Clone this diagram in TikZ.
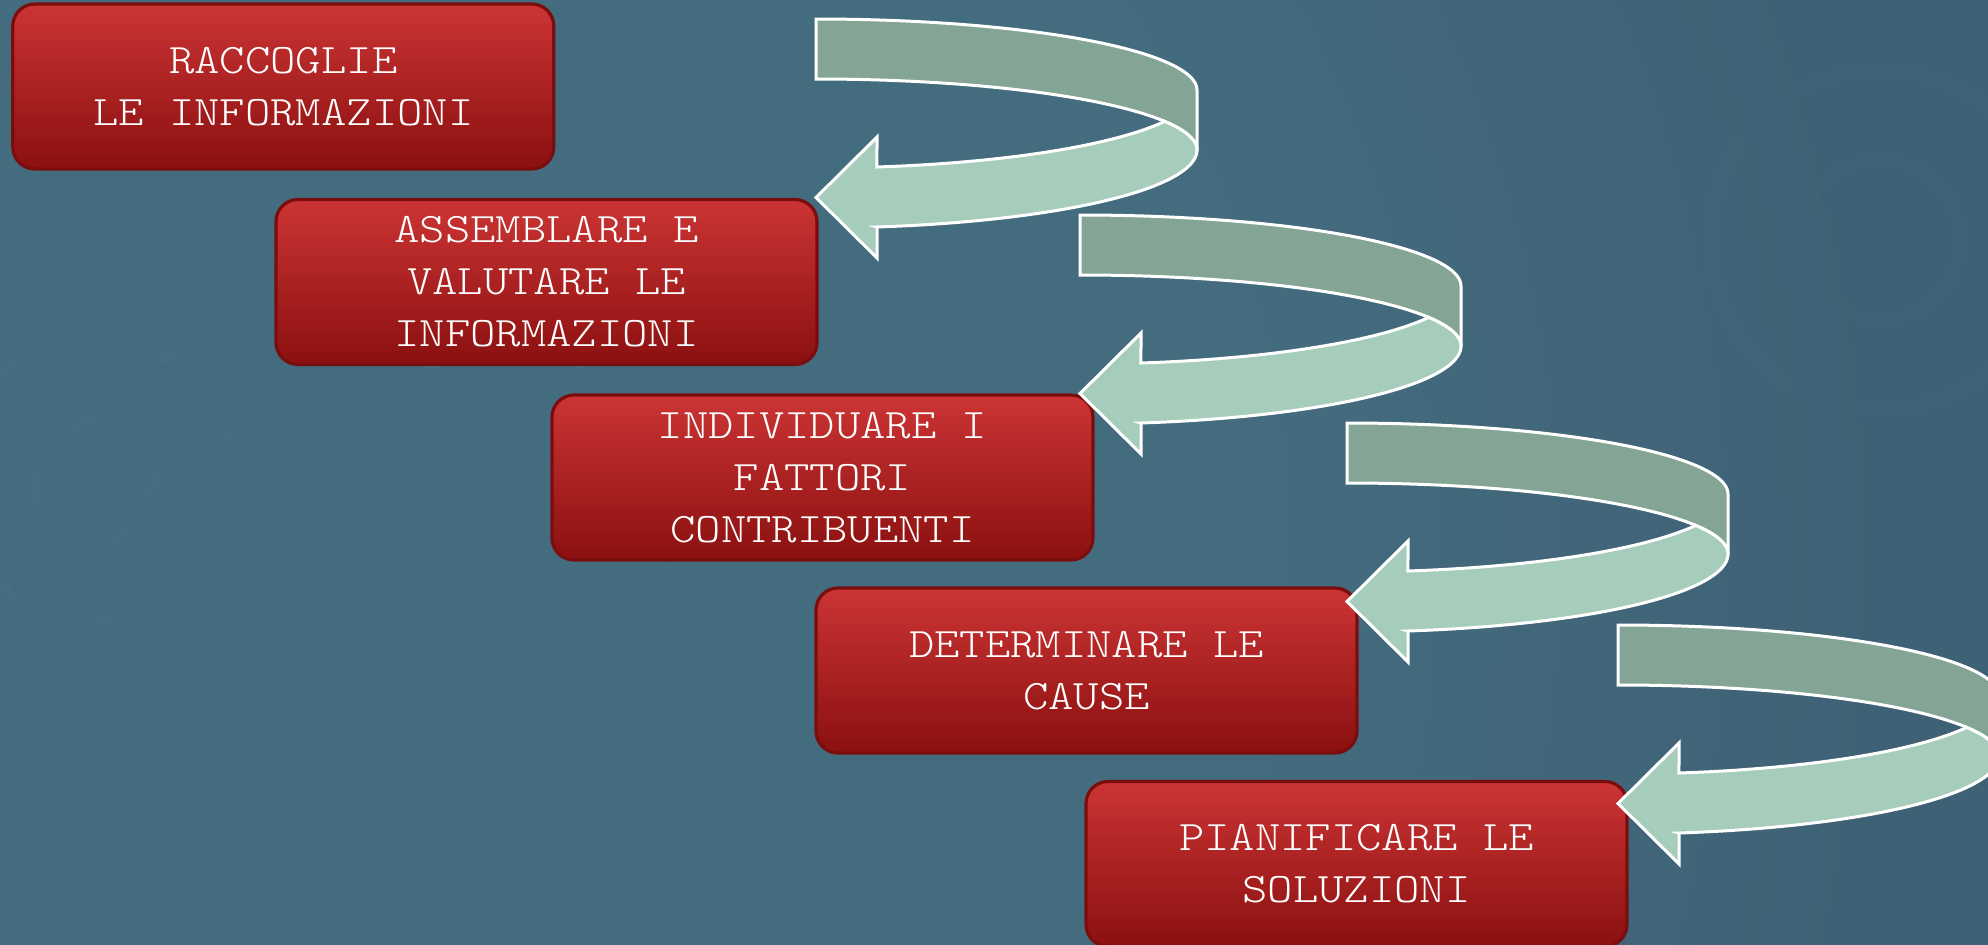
\documentclass[tikz,border=0pt]{standalone}
\usepackage{fontspec}
\newfontfamily\boxfont{lmmonolt10-regular.otf}[FakeStretch=1.15]
\definecolor{bgbase}{HTML}{3F6175}
\definecolor{bglight}{HTML}{446C7F}
\definecolor{boxtop}{HTML}{CC3434}
\definecolor{boxbot}{HTML}{8B1010}
\definecolor{boxline}{HTML}{7A0E0E}
\definecolor{ribbonback}{HTML}{84A595}
\definecolor{ribbonfront}{HTML}{A6CCBB}
\pgfdeclareradialshading{bgglow}{\pgfpoint{0bp}{0bp}}{%
  color(0bp)=(bglight); color(10bp)=(bglight); color(17bp)=(bgbase); color(50bp)=(bgbase)}
\tikzset{
  stepbox/.style={draw=boxline, line width=1.6pt, rounded corners=11pt,
    top color=boxtop, bottom color=boxbot,
    minimum width=270.5pt, minimum height=82.5pt, inner sep=0pt,
    align=center, text=white,
    font={\boxfont\fontsize{21}{26}\selectfont}},
  ribbonline/.style={draw=white, line width=1.5pt, line join=miter},
  ring/.style={draw=white, draw opacity=0.009, line width=4pt}
}
\newcommand\ribbonarrow[1]{%
  \begin{scope}[shift={#1}]
    \path[ribbonline, fill=ribbonback]
      plot[domain=90:0, samples=60, variable=\t] ({381*cos(\t)},{71-71*sin(\t)})
      -- (381,131)
      -- plot[domain=0:90, samples=60, variable=\t] ({381*cos(\t)},{131-71*sin(\t)})
      -- cycle;
    \path[ribbonline, fill=ribbonfront]
      (61,118) -- (0,178.5) -- (61,239) -- (61,208)
      -- plot[domain=80.79:0, samples=60, variable=\t] ({381*cos(\t)},{131+78*sin(\t)})
      -- plot[domain=0:23.75, samples=30, variable=\t] ({381*cos(\t)},{131-71*sin(\t)})
      -- plot[domain=23.75:80.79, samples=60, variable=\t] ({381*cos(\t)},{71+78*sin(\t)})
      -- cycle;
  \end{scope}}
\begin{document}
\begin{tikzpicture}[x=0.5pt,y=-0.5pt]
  \useasboundingbox (0,0) rectangle (1988,944);
  \clip (0,0) rectangle (1988,944);
  % background
  \fill[bgbase] (0,0) rectangle (1988,944);
  \shade[shading=bgglow] (260,560) circle (2400);
  \foreach \r in {90,190,285,380} {\draw[ring] (292,615) circle (\r);}
  \foreach \r in {60,140} {\draw[ring] (95,480) circle (\r);}
  \foreach \r in {80,170} {\draw[ring] (1880,240) circle (\r);}
  % steps
  \node[stepbox] (b1) at (283.3,86.5) {RACCOGLIE\\LE INFORMAZIONI};
  \node[stepbox] (b2) at (546.5,282) {ASSEMBLARE E\\VALUTARE LE\\INFORMAZIONI};
  \node[stepbox] (b3) at (822.5,477.5) {INDIVIDUARE I\\FATTORI\\CONTRIBUENTI};
  \node[stepbox] (b4) at (1086.5,670.5) {DETERMINARE LE\\CAUSE};
  \node[stepbox] (b5) at (1356.5,864) {PIANIFICARE LE\\SOLUZIONI};
  % curved arrows
  \ribbonarrow{(816,19)}
  \ribbonarrow{(1080,215)}
  \ribbonarrow{(1347,423)}
  \ribbonarrow{(1618,625)}
\end{tikzpicture}
\end{document}
